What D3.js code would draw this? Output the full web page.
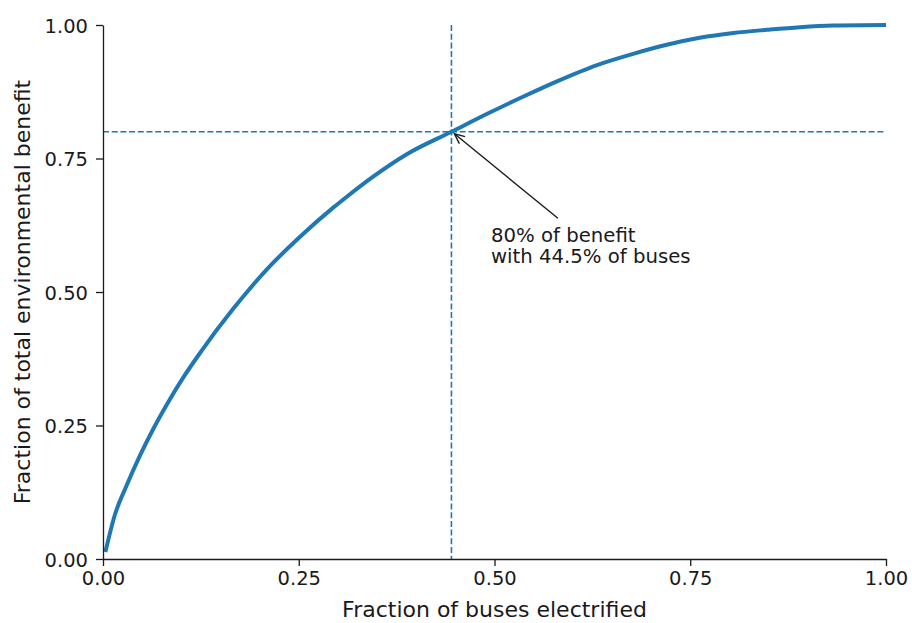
<html>
<meta charset="utf-8" />
<head>
<title>Fraction of benefit vs buses electrified</title>
<script src="https://cdn.jsdelivr.net/npm/d3@7"></script>
<style>
	body { margin: 0; background: #fff; }
	text { font-family: "DejaVu Sans", sans-serif; fill: #1a1a1a; }
</style>
<script>

// values
let busFraction = [0.003, 0.015, 0.030, 0.047, 0.064, 0.081, 0.103, 0.124, 0.166, 0.209, 0.252, 0.294, 0.311, 0.345, 0.388, 0.445, 0.494, 0.537, 0.579, 0.631, 0.677, 0.720, 0.762, 0.805, 0.848, 0.890, 0.933, 1.000];
let benefitFraction = [0.013, 0.082, 0.137, 0.193, 0.243, 0.288, 0.341, 0.386, 0.468, 0.542, 0.604, 0.658, 0.678, 0.716, 0.758, 0.800, 0.836, 0.866, 0.894, 0.925, 0.946, 0.963, 0.976, 0.985, 0.991, 0.996, 0.999, 1.000];
let tickValues = [0, 0.25, 0.5, 0.75, 1];
let tickLabels = ['0.00', '0.25', '0.50', '0.75', '1.00'];
let markX = 0.445;   // fraction of buses
let markY = 0.8;     // fraction of benefit
let noteLines = ['80% of benefit', 'with 44.5% of buses'];

window.onload = function() {
	let margin = { left: 103, right: 26, top: 25, bottom: 64 };
	let W = 912, H = 623;
	let w = W - margin.left - margin.right;
	let h = H - margin.top - margin.bottom;

	let svg = d3.select('svg').attr('width', W).attr('height', H);
	let g = svg.append('g').attr('transform', 'translate(' + margin.left + ',' + margin.top + ')');

	let x = d3.scaleLinear().domain([0, 1]).range([0, w]);
	let y = d3.scaleLinear().domain([0, 1]).range([h, 0]);

	// dashed reference lines (axvline / axhline)
	g.append('line')
		.attr('x1', x(markX)).attr('x2', x(markX))
		.attr('y1', 0).attr('y2', h)
		.style('stroke', '#1f77b4').style('stroke-width', '1.6px')
		.style('stroke-dasharray', '6,2.7');
	g.append('line')
		.attr('x1', 0).attr('x2', w)
		.attr('y1', y(markY)).attr('y2', y(markY))
		.style('stroke', '#1f77b4').style('stroke-width', '1.6px')
		.style('stroke-dasharray', '6,2.7');

	// the curve
	let pts = busFraction.map(function(d, i) { return [d, benefitFraction[i]]; });
	let line = d3.line()
		.x(function(d) { return x(d[0]); })
		.y(function(d) { return y(d[1]); })
		.curve(d3.curveMonotoneX);
	g.append('path')
		.attr('d', line(pts))
		.style('fill', 'none')
		.style('stroke', '#1f77b4')
		.style('stroke-width', '4px');

	// axes
	let xAxis = d3.axisBottom(x).tickValues(tickValues)
		.tickFormat(function(d, i) { return tickLabels[i]; })
		.tickSizeInner(7).tickSizeOuter(0).tickPadding(5);
	let yAxis = d3.axisLeft(y).tickValues(tickValues)
		.tickFormat(function(d, i) { return tickLabels[i]; })
		.tickSizeInner(7).tickSizeOuter(0).tickPadding(8);

	let gx = g.append('g').attr('transform', 'translate(0,' + h + ')').call(xAxis);
	let gy = g.append('g').call(yAxis);
	[gx, gy].forEach(function(a) {
		a.selectAll('path, line').style('stroke', '#1a1a1a').style('stroke-width', '1.3px');
		a.selectAll('text').style('font-size', '19.5px').style('font-family', '"DejaVu Sans"').style('fill', '#1a1a1a');
	});
	gy.selectAll('text').attr('dy', '0.36em');

	// axis labels
	svg.append('text')
		.attr('x', margin.left + w / 2).attr('y', 617)
		.attr('text-anchor', 'middle')
		.style('font-size', '22px')
		.text('Fraction of buses electrified');
	svg.append('text')
		.attr('transform', 'translate(30,' + (margin.top + h / 2) + ') rotate(-90)')
		.attr('text-anchor', 'middle')
		.style('font-size', '22px')
		.text('Fraction of total environmental benefit');

	// annotation
	let tx = x(0.4955), ty = y(0.594);
	let note = g.append('text').style('font-size', '19.7px');
	note.selectAll('tspan').data(noteLines).enter().append('tspan')
		.attr('x', tx).attr('y', function(d, i) { return ty + i * 21.6; })
		.text(function(d) { return d; });

	let sx = x(0.581), sy = y(0.638);
	let ex = x(markX) + 3, ey = y(markY) + 2;
	let ang = Math.atan2(sy - ey, sx - ex);
	let hl = 11, ha = 0.42;
	g.append('line')
		.attr('x1', sx).attr('y1', sy).attr('x2', ex).attr('y2', ey)
		.style('stroke', '#1a1a1a').style('stroke-width', '1.4px');
	g.append('path')
		.attr('d', 'M' + (ex + hl * Math.cos(ang - ha)) + ',' + (ey + hl * Math.sin(ang - ha)) +
			'L' + ex + ',' + ey +
			'L' + (ex + hl * Math.cos(ang + ha)) + ',' + (ey + hl * Math.sin(ang + ha)))
		.style('fill', 'none').style('stroke', '#1a1a1a').style('stroke-width', '1.4px');
}

</script>
</head>
<body>
	<svg></svg>
</body>
</html>
